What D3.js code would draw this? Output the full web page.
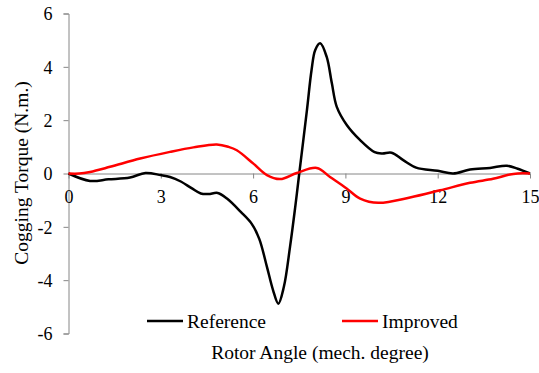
<!DOCTYPE html>
<html>
  <head>
    <meta charset="utf-8">
    <title>Cogging torque</title>
    <style>
      body { margin: 0; background: #fff; }
      svg { font-family: "Liberation Serif", "Times New Roman", serif; }
      .axis path, .axis line { stroke: #868686; }
      .line { fill: none; stroke-width: 2.5; }
      .title { font-size: 19.5px; fill: #000; }
    </style>
    <script src="https://d3js.org/d3.v7.min.js"></script>
  </head>
  <body>
    <div id="chart"></div>
    <script>
// Data
var refAngle = [0, 0.7, 1.3, 2.0, 2.5, 3.0, 3.3, 3.65, 4.0, 4.3, 4.55, 4.85, 5.15, 5.6, 5.95, 6.2, 6.45, 6.65, 6.82, 7.0, 7.2, 7.37, 7.5, 7.75, 7.9, 8.02, 8.18, 8.39, 8.56, 8.72, 9.05, 9.48, 9.95, 10.2, 10.5, 10.88, 11.3, 12.0, 12.5, 13.05, 13.7, 14.25, 14.6, 15];
var refTorque = [0, -0.28, -0.22, -0.15, 0.02, -0.06, -0.13, -0.3, -0.55, -0.75, -0.77, -0.73, -0.94, -1.44, -1.88, -2.45, -3.5, -4.38, -4.88, -4.25, -2.75, -1.25, 0, 2.38, 3.88, 4.63, 4.88, 4.38, 3.38, 2.5, 1.81, 1.25, 0.8, 0.75, 0.78, 0.5, 0.22, 0.1, 0, 0.15, 0.21, 0.29, 0.18, 0];

var impAngle = [0, 0.35, 0.7, 1.35, 2.33, 3.3, 4.06, 4.82, 5.2, 5.47, 6.01, 6.45, 6.88, 7.42, 8.07, 8.5, 9.04, 9.48, 10.07, 11.1, 12.08, 13.05, 13.8, 14.3, 14.6, 15];
var impTorque = [0, 0, 0.06, 0.25, 0.56, 0.81, 0.98, 1.09, 1.0, 0.87, 0.37, -0.06, -0.21, 0.02, 0.21, -0.13, -0.56, -0.94, -1.1, -0.9, -0.63, -0.35, -0.2, -0.05, 0, 0];

var xTicks = [0, 3, 6, 9, 12, 15];
var yTicks = [-6, -4, -2, 0, 2, 4, 6];

var seriesNames = ["Reference", "Improved"];
var seriesColors = ["#000000", "#ff0000"];

var width = 539;
var height = 373;
var serif = "'Liberation Serif', 'Times New Roman', serif";

var series = [
  { name: seriesNames[0], color: seriesColors[0], values: refAngle.map((a, i) => ({ x: a, y: refTorque[i] })) },
  { name: seriesNames[1], color: seriesColors[1], values: impAngle.map((a, i) => ({ x: a, y: impTorque[i] })) }
];

var xScale = d3.scaleLinear().domain([0, 15]).range([68.5, 530]);
var yScale = d3.scaleLinear().domain([-6, 6]).range([333.5, 13.5]);

var svg = d3.select("#chart").append("svg")
  .attr("width", width)
  .attr("height", height);

// y axis at x = 0
var yAxisG = svg.append("g")
  .attr("class", "y axis")
  .attr("transform", `translate(${xScale(0)},0)`)
  .call(d3.axisLeft(yScale).tickValues(yTicks).tickFormat(d => String(d))
    .tickSize(5).tickSizeOuter(5).tickPadding(11));
yAxisG.selectAll("text")
  .attr("dy", "0.36em")
  .style("font-family", serif)
  .style("font-size", "18px")
  .style("fill", "#000");

// x axis on the zero line
var xAxisG = svg.append("g")
  .attr("class", "x axis")
  .attr("transform", `translate(0,${yScale(0)})`)
  .call(d3.axisBottom(xScale).tickValues(xTicks).tickFormat(d => String(d))
    .tickSize(5).tickSizeOuter(0).tickPadding(12));
xAxisG.selectAll("text")
  .style("font-family", serif)
  .style("font-size", "18px")
  .style("fill", "#000");

var line = d3.line()
  .x(d => xScale(d.x))
  .y(d => yScale(d.y))
  .curve(d3.curveCatmullRom.alpha(0.5));

svg.append("g").selectAll(".line")
  .data(series).enter()
  .append("path")
  .attr("class", "line")
  .attr("d", d => line(d.values))
  .style("stroke", d => d.color);

// legend
var legendX = [147, 342];
var legend = svg.append("g").selectAll("g")
  .data(series).enter()
  .append("g")
  .attr("transform", (d, i) => `translate(${legendX[i]},321)`);

legend.append("line")
  .attr("x1", 0).attr("x2", 36)
  .attr("y1", 0).attr("y2", 0)
  .style("stroke", d => d.color)
  .style("stroke-width", 2.5);

legend.append("text")
  .attr("class", "title")
  .attr("x", 40)
  .attr("y", 6.5)
  .text(d => d.name);

// axis titles
svg.append("text")
  .attr("class", "title")
  .attr("text-anchor", "middle")
  .attr("x", 320)
  .attr("y", 359)
  .text("Rotor Angle (mech. degree)");

svg.append("text")
  .attr("class", "title")
  .attr("text-anchor", "middle")
  .attr("transform", "translate(28,173) rotate(-90)")
  .text("Cogging Torque (N.m.)");
    </script>
  </body>
</html>
